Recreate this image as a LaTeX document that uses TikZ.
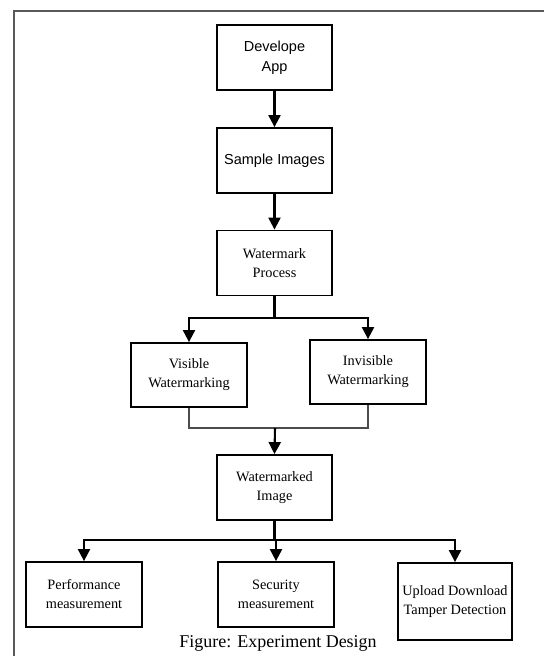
\documentclass[tikz,border=0pt]{standalone}
\usepackage{fontspec}
\setmainfont{Liberation Serif}
\newfontfamily\arialfont{Liberation Sans}
\usepackage{tikz}
\usetikzlibrary{arrows.meta}
\tikzstyle{wmbox}=[draw,line width=1.8pt,align=center,inner sep=0pt,minimum width=115pt,minimum height=65pt,font=\fontsize{14.3}{19}\selectfont]
\tikzstyle{sansbox}=[wmbox,font=\arialfont\fontsize{14.5}{20}\selectfont]
\tikzstyle{flow}=[line width=2.1pt,-{Triangle[width=12pt,length=12pt]}]

\begin{document}
\begin{tikzpicture}[x=1pt,y=1pt]
\useasboundingbox (0,0) rectangle (544,656);

\draw[gray!70!black,line width=1.5pt] (14,0) -- (14,645) -- (544,645);

\node[sansbox] (app) at (274.5,598.5) {Develope\\App};
\node[sansbox] (sample) at (274.5,495.5) {Sample Images};
\node[wmbox] (process) at (274.5,393) {Watermark\\Process};

\node[wmbox,minimum width=116pt,minimum height=64pt] (visible) at (189,281) {Visible\\Watermarking};
\node[wmbox,minimum width=116pt,minimum height=64pt] (invisible) at (368,284) {Invisible\\Watermarking};

\node[wmbox] (marked) at (274.5,168.5) {Watermarked\\Image};

\node[wmbox,minimum width=116pt] (perf) at (84,61.5) {Performance\\measurement};
\node[wmbox,minimum width=116pt] (secu) at (276,61.5) {Security\\measurement};
\node[wmbox,minimum width=114pt,minimum height=77pt] (upload) at (455,54.5) {Upload Download\\Tamper Detection};

\node[font=\fontsize{18}{22}\selectfont] (caption) at (278,13) {Figure: Experiment Design};

\coordinate (split) at (274.5,338);
\coordinate (merge) at (275,228);
\coordinate (fan) at (274.5,116);

\draw[flow] (app) -- (sample);
\draw[flow] (sample) -- (process);

\draw[line width=2.1pt] (process.south) -- (split);
\draw[flow] (split) -| (visible.north);
\draw[flow] (split) -| (invisible.north);

\draw[line width=1.3pt,gray!60!black] (visible.south) |- (merge) -| (invisible.south);
\draw[flow] (merge) -- (marked.north);

\draw[line width=2.1pt] (marked.south) -- (fan);
\draw[flow] (fan) -| (perf.north);
\draw[flow] (fan) -- (fan -| secu.north) -- (secu.north);
\draw[flow] (fan) -| (upload.north);

\end{tikzpicture}
\end{document}
